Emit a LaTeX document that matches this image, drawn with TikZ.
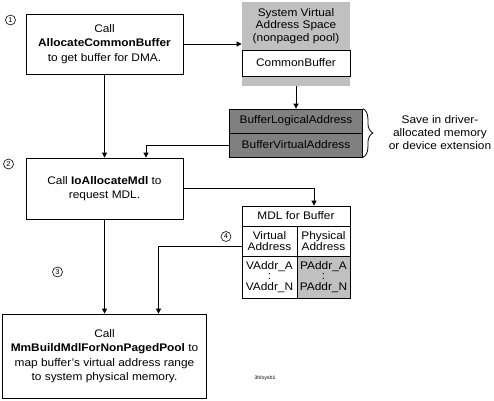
\documentclass[tikz,border=0pt]{standalone}
\usepackage{fontspec}
\setmainfont{Liberation Sans}[FakeStretch=1.08]
\usetikzlibrary{arrows.meta,decorations.pathreplacing}
\definecolor{gray75}{HTML}{C0C0C0}
\definecolor{darkbox}{HTML}{808080}

\begin{document}
\begin{tikzpicture}[x=1pt, y=-1pt, line width=0.8pt,
  font=\fontsize{11}{14.5}\selectfont,
  stepbox/.style={draw, fill=white, align=center, inner sep=0pt},
  cell/.style={draw, align=center, inner sep=0pt, font=\fontsize{11}{10.5}\selectfont},
  num/.style={draw, circle, inner sep=0pt, minimum size=10pt, line width=0.6pt, font=\fontsize{7}{7}\selectfont},
  >={Triangle[length=5pt,width=5pt]}]
\useasboundingbox (0,0) rectangle (494,400);

\node[stepbox, minimum width=157, minimum height=60] (a) at (104.5,44) {Call\\\textbf{AllocateCommonBuffer}\\to get buffer for DMA.};
\node[stepbox, minimum width=157, minimum height=61] (b) at (104.5,188.5) {Call \textbf{IoAllocateMdl} to\\request MDL.};
\node[stepbox, minimum width=204, minimum height=84] (c) at (104.5,356) {Call\\\textbf{MmBuildMdlForNonPagedPool} to\\map buffer's virtual address range\\to system physical memory.};

% system virtual address space
\node[fill=gray75, minimum width=108, minimum height=84, inner sep=0pt] (vas) at (296,44) {};
\node[align=center, font=\fontsize{11}{12.5}\selectfont] (vast) at (296,26) {System Virtual\\Address Space\\(nonpaged pool)};
\node[stepbox, minimum width=108, minimum height=26] (cb) at (296,63) {CommonBuffer};

\node[cell, fill=darkbox, minimum width=133, minimum height=24] (bla) at (296,121) {BufferLogicalAddress};
\node[cell, fill=darkbox, minimum width=133, minimum height=24] (bva) at (296,145) {BufferVirtualAddress};
\draw[decorate, decoration={brace, amplitude=10pt}] (bla.north east) -- (bva.south east);
\node[align=center, font=\fontsize{11}{13}\selectfont] (sv) at (440,133) {Save in driver-\\allocated memory\\or device extension};

% MDL table
\node[cell, minimum width=108, minimum height=20] (mh) at (296,216) {MDL for Buffer};
\node[cell, minimum width=55, minimum height=30] (mv) at (269.5,241) {Virtual\\Address};
\node[cell, minimum width=53, minimum height=30] (mp) at (323.5,241) {Physical\\Address};
\node[cell, minimum width=55, minimum height=42] (mva) at (269.5,277) {VAddr\_A\\:\\VAddr\_N};
\node[cell, fill=gray75, minimum width=53, minimum height=42] (mpa) at (323.5,277) {PAddr\_A\\:\\PAddr\_N};

\node[num] (n1) at (10.5,20) {1};
\node[num] (n2) at (8.5,164) {2};
\node[num] (n3) at (57.5,272) {3};
\node[num] (n4) at (226,236.5) {4};

\node[font=\fontsize{5}{5}\selectfont] (fig) at (265,378) {3hlsysb1};

\draw[->] (a) -- (vas);
\draw[->] (vas) -- (bla);
\draw[->] (a) -- (b);
\draw[->] (bva.west) -| ([xshift=41.5pt]b.north);
\draw[->] (b.east) -| ([xshift=18pt]mh.north);
\draw[->] (b) -- (c);
\draw[->] ([yshift=-5pt]mv.west) -| ([xshift=54pt]c.north);
\end{tikzpicture}
\end{document}
